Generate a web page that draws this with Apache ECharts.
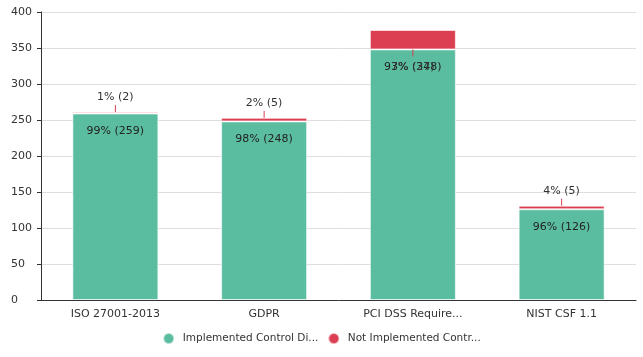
<!DOCTYPE html>
<html><head><meta charset="utf-8">
<script src="https://cdn.jsdelivr.net/npm/echarts@6/dist/echarts.min.js"></script>
<style>html,body{margin:0;padding:0;background:#fff}#c{width:643px;height:357px}</style>
</head><body><div id="c"></div>
<script>
const categories = ['ISO 27001-2013', 'GDPR', 'PCI DSS Require...', 'NIST CSF 1.1'];
const implemented = [259, 248, 348, 126];
const notImplemented = [2, 5, 27, 5];
const seriesNames = ['Implemented Control Di...', 'Not Implemented Contr...'];
const yTicks = { min: 0, max: 400, interval: 50 };

const totals = implemented.map((v, i) => v + notImplemented[i]);
const pct = (v, i) => Math.round(v / totals[i] * 100) + '% (' + v + ')';
const font = 'Verdana, "DejaVu Sans", sans-serif';
const isBig = i => notImplemented[i] / totals[i] > 0.05;

const redData = notImplemented.map((v, i) =>
  isBig(i) ? { value: v, label: { position: 'bottom', distance: 12 } } : v);

// leader line anchors: [category index, anchor value, direction(-1 up, 1 down)]
const leaderData = categories.map((c, i) =>
  isBig(i) ? [i, implemented[i], 1] : [i, totals[i], -1]);

const chart = echarts.init(document.getElementById('c'));
chart.setOption({
  animation: false,
  grid: { left: 41, right: 7, top: 12, bottom: 57 },
  legend: {
    data: seriesNames,
    bottom: 7, left: 'center', icon: 'circle', itemWidth: 18, itemHeight: 11, itemGap: 9,
    textStyle: { fontFamily: font, fontSize: 10.5, color: '#333' }
  },
  xAxis: {
    type: 'category', data: categories,
    axisLine: { lineStyle: { color: '#333' } },
    axisTick: { alignWithLabel: true, length: 4, lineStyle: { color: '#333' } },
    axisLabel: { fontFamily: font, fontSize: 11, color: '#333', margin: 9 }
  },
  yAxis: {
    type: 'value', min: yTicks.min, max: yTicks.max, interval: yTicks.interval,
    axisLine: { show: true, lineStyle: { color: '#333' } },
    axisTick: { show: true, length: 4, lineStyle: { color: '#333' } },
    splitLine: { lineStyle: { color: '#dedede' } },
    axisLabel: { fontFamily: font, fontSize: 11, color: '#333', margin: 30, align: 'left' }
  },
  series: [
    {
      name: seriesNames[0], type: 'bar', stack: 's', data: implemented, barWidth: 86,
      itemStyle: { color: '#5bbd9f', borderColor: 'rgba(255,255,255,0.6)', borderWidth: 1 },
      label: { show: true, position: 'insideTop', distance: 12, fontFamily: font, fontSize: 11, color: '#222',
        formatter: p => pct(p.value, p.dataIndex) }
    },
    {
      name: seriesNames[1], type: 'bar', stack: 's', data: redData, barWidth: 86,
      itemStyle: { color: '#dc3f52', borderColor: 'rgba(255,255,255,0.6)', borderWidth: 1 },
      label: { show: true, position: 'top', distance: 9, fontFamily: font, fontSize: 11, color: '#333',
        formatter: p => pct(p.value, p.dataIndex) }
    },
    {
      name: 'leader', type: 'custom', data: leaderData, silent: true, z: 5,
      renderItem: (params, api) => {
        const p = api.coord([api.value(0), api.value(1)]);
        const d = api.value(2);
        return { type: 'line', shape: { x1: p[0], y1: p[1], x2: p[0], y2: p[1] + d * 7 },
          style: { stroke: '#dc3f52', lineWidth: 1 } };
      }
    }
  ]
});
</script></body></html>
